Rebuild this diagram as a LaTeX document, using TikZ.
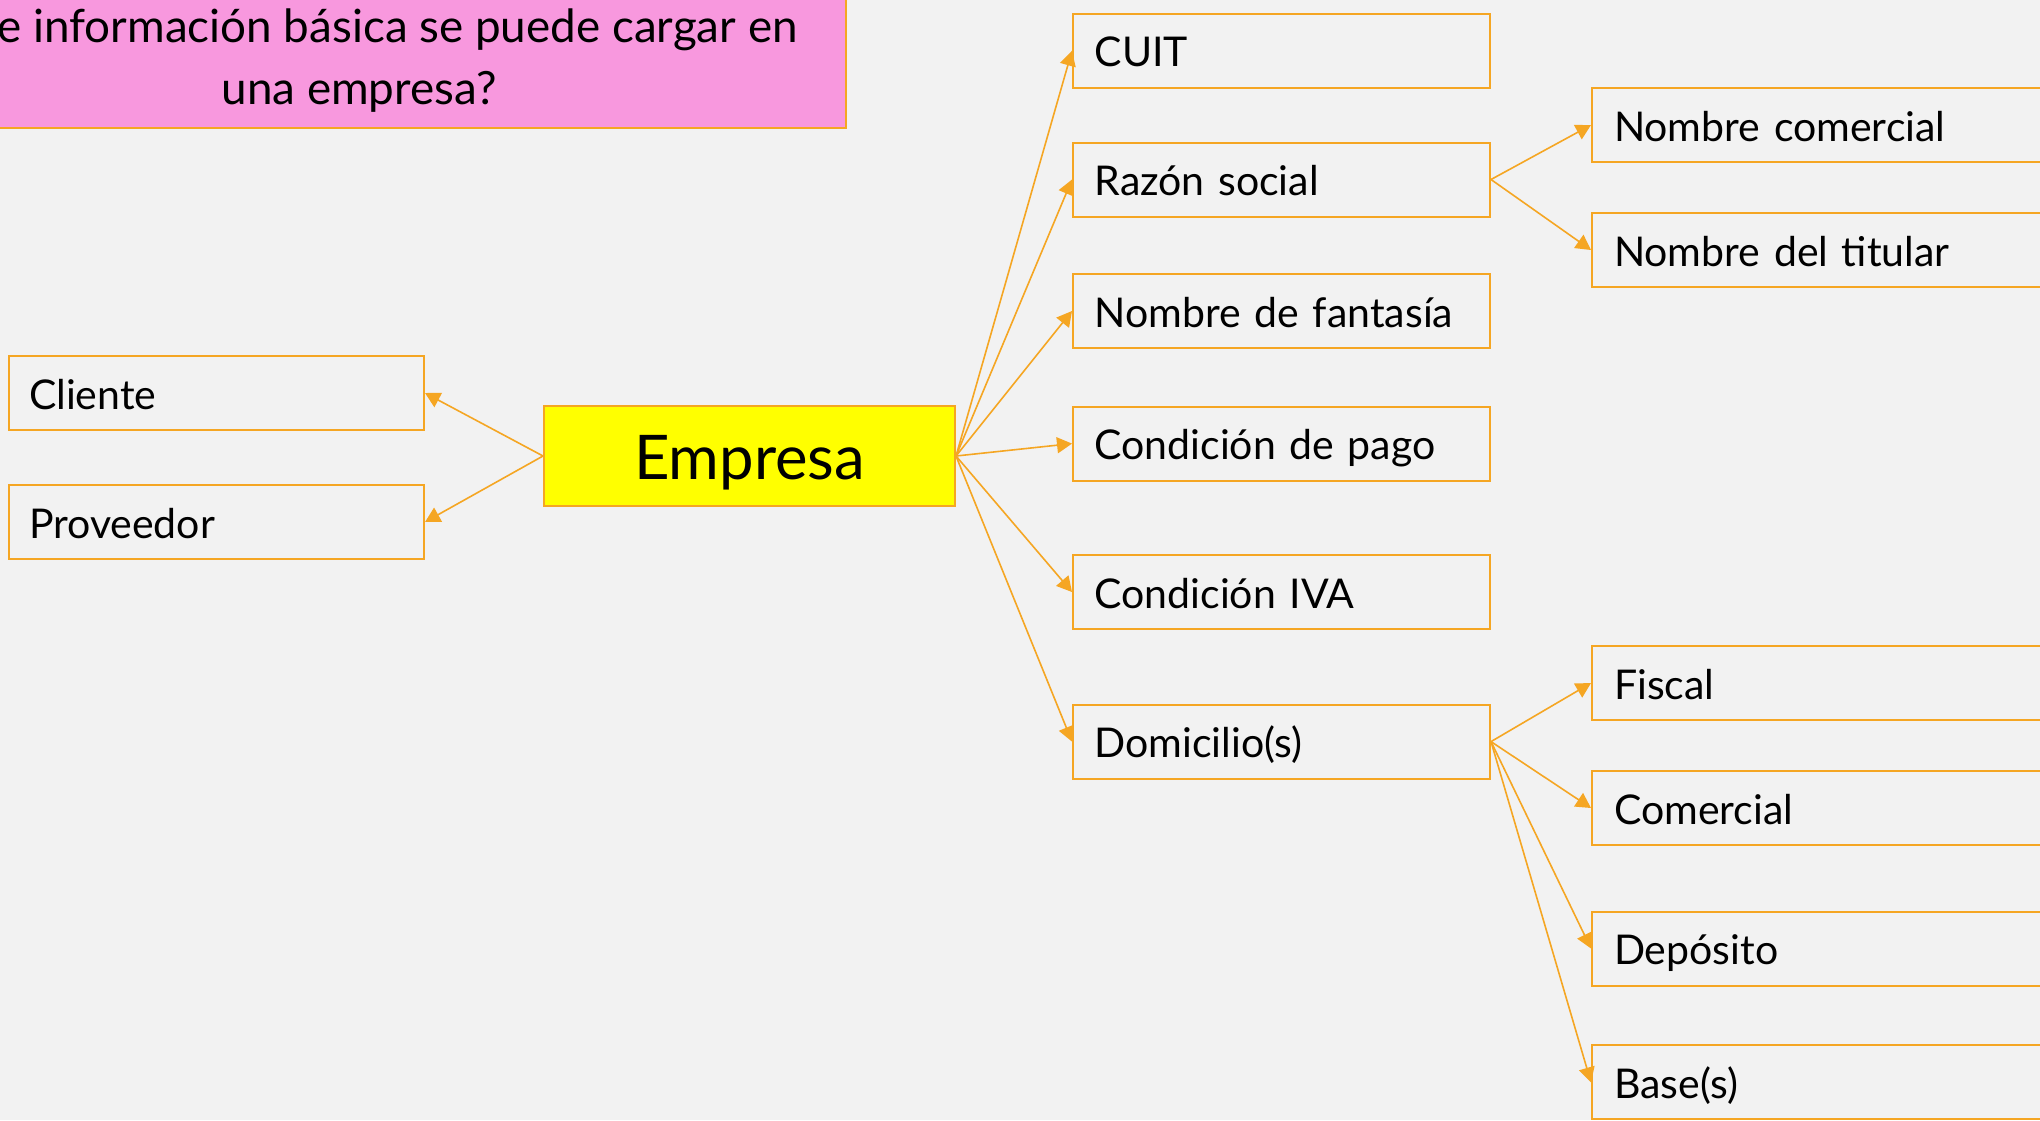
\documentclass[tikz,border=0pt]{standalone}
\usepackage{fontspec}
\setmainfont{Lato}
\usetikzlibrary{arrows.meta}
\definecolor{bg}{HTML}{F2F2F2}
\definecolor{org}{HTML}{F5A623}
\definecolor{pinkf}{HTML}{F898DE}
\definecolor{yel}{HTML}{FFFF00}
\begin{document}
\begin{tikzpicture}[x=1pt,y=-1pt,
  txt/.style={font=\fontsize{20.5}{24}\selectfont,text height=16.5pt,text depth=0.3pt},
  midbox/.style={txt,draw=org,line width=1pt,fill=bg,minimum height=37pt,inner xsep=10.8pt,inner ysep=0pt,text width=186.9pt,align=left},
  rbox/.style={txt,draw=org,line width=1pt,fill=bg,minimum height=37pt,inner xsep=11pt,inner ysep=0pt,text width=228pt,align=left},
  lbox/.style={txt,draw=org,line width=1pt,fill=bg,minimum height=37pt,inner xsep=10pt,inner ysep=0pt,text width=187.5pt,align=left},
  ttl/.style={font=\fontsize{22.9}{26}\selectfont,text height=15pt,text depth=4pt,inner sep=0pt},
  conn/.style={draw=org,line width=0.8pt,-{Triangle[length=7.5pt,width=8pt]}}]
\useasboundingbox (0,0) rectangle (1020,560);
\fill[bg] (0,0) rectangle (1020,560);
\clip (0,0) rectangle (1020,560);
% title
\node[draw=org,line width=1pt,fill=pinkf,minimum width=443pt,minimum height=73.75pt,inner sep=0pt] (title) at (201.5,26.9) {};
\node[ttl,anchor=east] (t1) at (399,15.8) {e información básica se puede cargar en};
\node[ttl] (t2) at (179.5,46.8) {una empresa?};
% center
\node[draw=org,line width=1pt,fill=yel,minimum width=205.5pt,minimum height=50pt,inner sep=0pt,font=\fontsize{30.8}{36}\selectfont,text height=23pt,text depth=0pt] (emp) at (374.75,228) {Empresa};
% left
\node[lbox] (cli) at (108.25,196.5) {Cliente};
\node[lbox] (pro) at (108.25,261) {Proveedor};
% middle
\node[midbox] (cuit) at (640.75,25.35) {CUIT};
\node[midbox] (raz) at (640.75,89.75) {Razón social};
\node[midbox] (fan) at (640.75,155.5) {Nombre de fantasía};
\node[midbox] (pag) at (640.75,221.8) {Condición de pago};
\node[midbox] (iva) at (640.75,296) {Condición IVA};
\node[midbox] (dom) at (640.75,370.8) {Domicilio(s)};
% right
\node[rbox] (nc) at (921,62.5) {Nombre comercial};
\node[rbox] (nt) at (921,125) {Nombre del titular};
\node[rbox] (fis) at (921,341.5) {Fiscal};
\node[rbox] (com) at (921,404) {Comercial};
\node[rbox] (dep) at (921,474.25) {Depósito};
\node[rbox] (bas) at (921,541.2) {Base(s)};
% connectors
\foreach \t in {cuit,raz,fan,pag,iva,dom} \draw[conn] (emp.east) -- (\t.west);
\draw[conn] (emp.west) -- (cli.east);
\draw[conn] (emp.west) -- (pro.east);
\draw[conn] (raz.east) -- (nc.west);
\draw[conn] (raz.east) -- (nt.west);
\foreach \t in {fis,com,dep,bas} \draw[conn] (dom.east) -- (\t.west);
\end{tikzpicture}
\end{document}
